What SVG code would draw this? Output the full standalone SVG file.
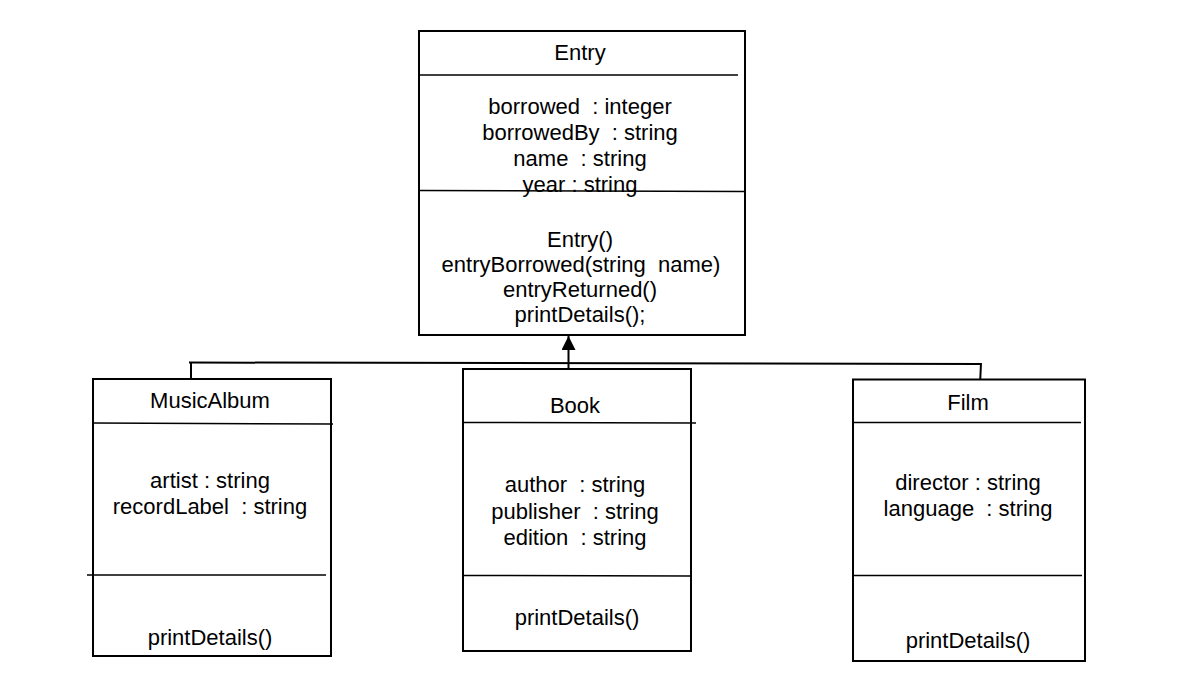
<svg xmlns="http://www.w3.org/2000/svg" width="1194" height="700" viewBox="0 0 1194 700">
<defs>
<style>
.box{fill:#fff;stroke:#000;stroke-width:2}
.div{stroke:#000;stroke-width:1.5;fill:none}
.con{stroke:#000;stroke-width:2;fill:none}
text{font-family:"Liberation Sans",Arial,sans-serif;font-size:22px;fill:#000;text-anchor:middle;white-space:pre}
</style>
<marker id="arr" viewBox="0 0 14 14" refX="14" refY="7" markerWidth="14" markerHeight="14" markerUnits="userSpaceOnUse" orient="auto">
<path d="M0,0 L14,7 L0,14 Z" fill="#000"/>
</marker>
</defs>
<rect width="1194" height="700" fill="#fff"/>
<g id="connectors">
<line class="con" x1="189" y1="362.5" x2="981" y2="364"/>
<line class="con" x1="191" y1="362.5" x2="191" y2="379"/>
<line class="con" x1="981" y1="363" x2="980" y2="385"/>
<line class="con" x1="568.5" y1="387" x2="568.5" y2="336" marker-end="url(#arr)"/>
</g>
<g id="Entry">
<rect class="box" x="419" y="31" width="326" height="304"/>
<line class="div" x1="419" y1="75" x2="738" y2="75"/>
<line class="div" x1="419" y1="190.5" x2="745" y2="191.5"/>
<text x="580" y="60">Entry</text>
<text x="580" y="114" xml:space="preserve">borrowed  : integer</text>
<text x="580" y="140" xml:space="preserve">borrowedBy  : string</text>
<text x="580" y="166" xml:space="preserve">name  : string</text>
<text x="580" y="192" xml:space="preserve">year : string</text>
<text x="580" y="247">Entry()</text>
<text x="581" y="272" xml:space="preserve">entryBorrowed(string  name)</text>
<text x="580" y="297">entryReturned()</text>
<text x="580" y="322">printDetails();</text>
</g>
<g id="MusicAlbum">
<rect class="box" x="93" y="379" width="238" height="277"/>
<line class="div" x1="93" y1="423" x2="333" y2="424"/>
<line class="div" x1="87" y1="575" x2="326" y2="575"/>
<text x="210" y="408">MusicAlbum</text>
<text x="210" y="488">artist : string</text>
<text x="210" y="514" xml:space="preserve">recordLabel  : string</text>
<text x="210" y="645">printDetails()</text>
</g>
<g id="Book">
<rect class="box" x="463" y="369" width="228" height="282"/>
<line class="div" x1="463" y1="422.5" x2="696" y2="423"/>
<line class="div" x1="463" y1="575.5" x2="691" y2="576"/>
<text x="575" y="413">Book</text>
<text x="575" y="492" xml:space="preserve">author  : string</text>
<text x="575" y="519" xml:space="preserve">publisher  : string</text>
<text x="575" y="545" xml:space="preserve">edition  : string</text>
<text x="577" y="625">printDetails()</text>
</g>
<g id="Film">
<rect class="box" x="853" y="379.5" width="232" height="281.5"/>
<line class="div" x1="853" y1="422.5" x2="1081" y2="422.5"/>
<line class="div" x1="853" y1="575.5" x2="1082" y2="575.5"/>
<text x="968" y="410">Film</text>
<text x="968" y="490">director : string</text>
<text x="968" y="516" xml:space="preserve">language  : string</text>
<text x="968" y="648">printDetails()</text>
</g>
</svg>
